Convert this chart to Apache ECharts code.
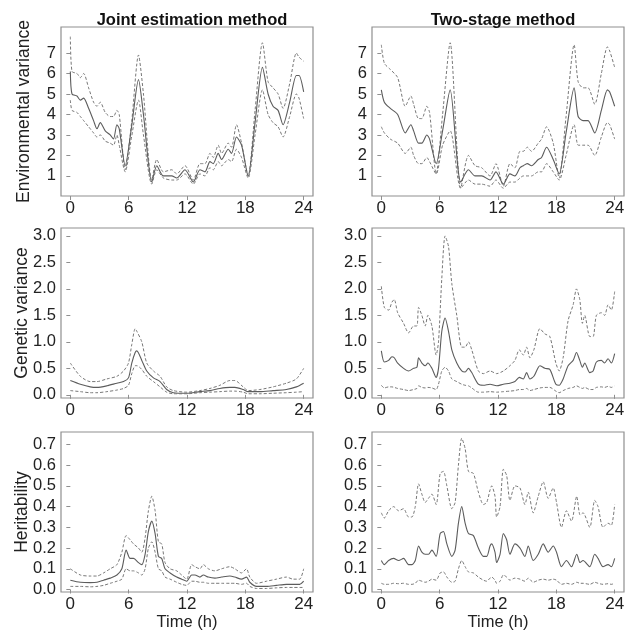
<!DOCTYPE html>
<html>
<head>
<meta charset="utf-8">
<script src="https://cdn.jsdelivr.net/npm/echarts@6/dist/echarts.min.js"></script>
<style>
html,body{margin:0;padding:0;background:#fff;}
#c{width:629px;height:632px;}
</style>
</head>
<body>
<div id="c"></div>
<script>
// ---------- DATA ----------
const xTicks = [0, 6, 12, 18, 24];
const envTicks = [1, 2, 3, 4, 5, 6, 7];
const genTicks = [0, 0.5, 1, 1.5, 2, 2.5, 3];
const herTicks = [0, 0.1, 0.2, 0.3, 0.4, 0.5, 0.6, 0.7];
const columnTitles = ["Joint estimation method", "Two-stage method"];
const rowNames = ["Environmental variance", "Genetic variance", "Heritability"];

// Joint estimation – environmental variance
const envJointT = [0, 0.17, 0.68, 1.03, 1.37, 1.88, 2.39, 2.74, 3.08, 3.59, 4.10, 4.44, 4.79, 5.03, 5.64, 6.3, 7.01, 7.52, 8.38, 8.89, 9.57, 10.43, 10.94, 11.79, 12.65, 13.33, 13.85, 14.36, 14.70, 15.21, 15.56, 16.24, 16.58, 17.09, 17.61, 18.29, 19.0, 19.76, 20.34, 20.85, 21.37, 21.88, 22.56, 23.25, 23.52, 24];
const envJointUp = [7.8, 6.1, 6.0, 5.8, 6.0, 5.3, 4.6, 4.4, 4.6, 4.1, 3.9, 3.9, 4.2, 4.0, 1.3, 3.6, 6.9, 5.0, 0.8, 1.8, 1.2, 1.3, 1.1, 1.5, 0.8, 1.6, 1.6, 2.1, 1.9, 2.5, 2.1, 2.6, 2.4, 3.5, 2.6, 1.0, 4.2, 7.5, 5.6, 5.3, 5.0, 4.3, 5.5, 7.0, 6.8, 6.6];
const envJointMid = [6.1, 5.0, 4.9, 4.7, 4.8, 4.3, 3.7, 3.3, 3.6, 3.2, 3.0, 2.8, 3.5, 3.3, 1.5, 3.4, 5.7, 4.0, 0.7, 1.5, 1.0, 1.0, 0.9, 1.3, 0.7, 1.3, 1.2, 1.7, 1.6, 2.1, 1.8, 2.3, 2.1, 2.9, 2.5, 1.0, 3.6, 6.3, 5.0, 4.4, 4.2, 3.5, 4.6, 5.9, 5.9, 5.1];
const envJointLo = [4.7, 4.2, 4.1, 3.9, 3.7, 3.4, 3.1, 2.9, 3.0, 2.7, 2.6, 2.5, 3.0, 2.5, 1.2, 2.9, 4.7, 3.0, 0.6, 1.3, 0.9, 0.8, 0.8, 1.1, 0.6, 1.1, 1.0, 1.4, 1.3, 1.7, 1.5, 1.8, 1.7, 2.3, 1.9, 0.9, 3.0, 5.2, 4.0, 3.6, 3.4, 2.9, 3.9, 5.0, 4.8, 3.8];

// Two-stage – environmental variance
const envTwoT = [0, 0.31, 0.92, 1.68, 2.46, 3.04, 3.32, 3.83, 4.17, 4.68, 4.96, 5.64, 6.3, 7.08, 8.17, 8.96, 9.64, 10.32, 11.18, 11.79, 12.55, 13.23, 13.74, 14.26, 14.60, 15.01, 15.45, 16.14, 16.48, 17.0, 17.68, 18.29, 19.0, 19.83, 20.24, 20.75, 21.26, 21.95, 22.63, 23.25, 23.49, 24];
const envTwoUp = [7.4, 6.5, 6.2, 5.8, 4.4, 4.9, 4.5, 3.8, 3.8, 4.4, 4.1, 1.1, 4.0, 7.5, 0.4, 2.0, 1.5, 1.4, 1.0, 1.6, 0.5, 1.6, 1.4, 2.2, 2.2, 2.4, 2.2, 2.6, 2.8, 3.4, 2.6, 0.9, 3.9, 7.4, 5.6, 5.3, 5.3, 4.5, 6.0, 7.3, 7.1, 6.3];
const envTwoMid = [5.2, 4.6, 4.3, 4.0, 3.1, 3.5, 3.2, 2.6, 2.6, 3.0, 2.8, 1.6, 3.2, 5.2, 0.7, 1.3, 1.0, 1.0, 0.8, 1.2, 0.6, 1.1, 1.0, 1.4, 1.5, 1.6, 1.5, 1.8, 1.9, 2.4, 1.8, 1.1, 3.1, 5.3, 3.9, 3.7, 3.7, 3.1, 4.2, 5.2, 5.1, 4.4];
const envTwoLo = [3.4, 3.1, 2.8, 2.6, 2.1, 2.4, 2.0, 1.6, 1.6, 1.9, 1.7, 1.1, 2.5, 3.2, 0.4, 0.8, 0.6, 0.6, 0.5, 0.8, 0.4, 0.7, 0.7, 0.9, 1.0, 1.0, 1.0, 1.2, 1.2, 1.6, 1.2, 0.8, 2.0, 3.5, 2.5, 2.5, 2.5, 2.0, 2.9, 3.6, 3.5, 2.8];

// Joint estimation – genetic variance
const genJointT = [0, 1.03, 2.05, 2.74, 3.76, 4.79, 5.47, 5.98, 6.32, 6.67, 6.84, 7.35, 7.86, 8.55, 9.23, 9.91, 10.6, 11.97, 13.33, 14.36, 15.38, 16.41, 16.92, 17.78, 18.29, 19.49, 20.85, 22.22, 23.25, 24];
const genJointUp = [0.6, 0.35, 0.25, 0.25, 0.3, 0.35, 0.45, 0.6, 0.95, 1.25, 1.2, 1.0, 0.6, 0.45, 0.35, 0.15, 0.08, 0.05, 0.08, 0.12, 0.18, 0.27, 0.27, 0.15, 0.08, 0.1, 0.15, 0.22, 0.3, 0.5];
const genJointMid = [0.27, 0.2, 0.15, 0.14, 0.17, 0.22, 0.25, 0.32, 0.6, 0.8, 0.83, 0.65, 0.45, 0.32, 0.25, 0.1, 0.04, 0.03, 0.06, 0.08, 0.12, 0.14, 0.14, 0.1, 0.06, 0.06, 0.08, 0.1, 0.15, 0.22];
const genJointLo = [0.08, 0.06, 0.04, 0.04, 0.06, 0.09, 0.12, 0.18, 0.4, 0.55, 0.55, 0.48, 0.35, 0.25, 0.15, 0.05, 0.02, 0.02, 0.04, 0.05, 0.06, 0.07, 0.07, 0.05, 0.02, 0.02, 0.03, 0.04, 0.05, 0.06];

// Two-stage – genetic variance
const genTwoT = [0, 0.31, 0.75, 1.09, 1.33, 1.68, 2.29, 2.80, 3.32, 3.66, 3.83, 4.17, 4.51, 4.79, 5.20, 5.64, 5.88, 6.22, 6.56, 6.91, 7.25, 7.76, 8.27, 8.62, 8.96, 9.30, 9.98, 10.50, 11.18, 11.86, 12.55, 13.23, 13.74, 14.19, 14.60, 14.94, 15.28, 15.69, 16.31, 16.82, 17.33, 17.95, 18.29, 18.70, 19.21, 19.73, 20.07, 20.41, 20.68, 20.92, 21.44, 21.78, 22.12, 22.63, 22.97, 23.32, 23.66, 24];
const genTwoUp = [2.05, 1.65, 1.6, 1.75, 1.8, 1.55, 1.35, 1.17, 1.3, 1.3, 1.65, 1.5, 1.3, 1.5, 1.3, 0.75, 1.0, 2.2, 3.0, 2.8, 2.1, 1.5, 0.9, 0.9, 1.0, 0.85, 0.45, 0.4, 0.45, 0.4, 0.45, 0.55, 0.65, 0.85, 0.75, 0.9, 0.7, 0.85, 1.25, 1.15, 1.1, 0.6, 0.45, 0.7, 1.4, 1.7, 2.0, 1.8, 1.35, 1.5, 1.1, 1.1, 1.5, 1.55, 1.5, 1.7, 1.6, 1.95];
const genTwoMid = [0.83, 0.62, 0.65, 0.72, 0.7, 0.6, 0.5, 0.45, 0.5, 0.52, 0.7, 0.6, 0.55, 0.6, 0.5, 0.33, 0.5, 1.2, 1.45, 1.2, 0.85, 0.6, 0.45, 0.43, 0.5, 0.42, 0.2, 0.18, 0.2, 0.17, 0.2, 0.22, 0.25, 0.33, 0.3, 0.42, 0.3, 0.35, 0.55, 0.5, 0.48, 0.2, 0.18, 0.3, 0.55, 0.65, 0.8, 0.65, 0.52, 0.6, 0.42, 0.45, 0.62, 0.65, 0.6, 0.68, 0.6, 0.78];
const genTwoLo = [0.18, 0.13, 0.15, 0.15, 0.14, 0.12, 0.1, 0.08, 0.1, 0.12, 0.17, 0.14, 0.13, 0.14, 0.13, 0.1, 0.2, 0.45, 0.52, 0.45, 0.3, 0.25, 0.2, 0.18, 0.17, 0.13, 0.05, 0.05, 0.06, 0.05, 0.06, 0.07, 0.08, 0.1, 0.1, 0.12, 0.08, 0.1, 0.13, 0.14, 0.14, 0.07, 0.04, 0.08, 0.12, 0.14, 0.17, 0.14, 0.12, 0.14, 0.1, 0.1, 0.14, 0.15, 0.14, 0.16, 0.14, 0.17];

// Joint estimation – heritability
const herJointT = [0, 1.03, 2.05, 2.74, 3.42, 4.10, 4.79, 5.30, 5.74, 6.15, 6.50, 7.01, 7.35, 7.69, 8.03, 8.38, 8.72, 9.06, 9.40, 9.74, 10.26, 10.94, 11.45, 11.97, 12.48, 12.82, 13.33, 13.68, 14.19, 14.87, 15.56, 16.41, 16.92, 17.61, 18.12, 18.46, 19.15, 20.17, 21.2, 22.22, 22.91, 23.59, 24];
const herJointUp = [0.1, 0.07, 0.065, 0.065, 0.08, 0.1, 0.12, 0.18, 0.26, 0.24, 0.22, 0.2, 0.18, 0.25, 0.38, 0.45, 0.38, 0.23, 0.22, 0.13, 0.1, 0.09, 0.07, 0.05, 0.12, 0.11, 0.1, 0.12, 0.1, 0.09, 0.1, 0.11, 0.1, 0.08, 0.1, 0.06, 0.03, 0.04, 0.05, 0.06, 0.05, 0.05, 0.1];
const herJointMid = [0.045, 0.035, 0.033, 0.035, 0.045, 0.055, 0.07, 0.1, 0.19, 0.15, 0.15, 0.13, 0.12, 0.17, 0.28, 0.33, 0.27, 0.16, 0.15, 0.1, 0.08, 0.06, 0.05, 0.04, 0.07, 0.07, 0.06, 0.07, 0.06, 0.055, 0.06, 0.065, 0.06, 0.05, 0.06, 0.035, 0.015, 0.015, 0.02, 0.025, 0.025, 0.025, 0.04];
const herJointLo = [0.015, 0.015, 0.013, 0.015, 0.02, 0.03, 0.04, 0.05, 0.1, 0.09, 0.09, 0.08, 0.07, 0.1, 0.2, 0.23, 0.18, 0.1, 0.09, 0.06, 0.05, 0.035, 0.025, 0.02, 0.04, 0.04, 0.035, 0.035, 0.03, 0.03, 0.03, 0.03, 0.03, 0.025, 0.03, 0.015, 0.005, 0.005, 0.008, 0.01, 0.01, 0.01, 0.01];

// Two-stage – heritability
const herTwoT = [0, 0.31, 0.75, 1.26, 1.78, 2.29, 2.80, 3.15, 3.49, 3.83, 4.17, 4.51, 4.85, 5.20, 5.64, 6.05, 6.39, 6.74, 7.25, 7.59, 7.93, 8.27, 8.62, 8.96, 9.47, 9.98, 10.50, 10.84, 11.18, 11.35, 11.69, 11.86, 12.21, 12.55, 12.89, 13.23, 13.74, 14.26, 14.77, 15.11, 15.62, 16.14, 16.65, 17.16, 17.68, 18.02, 18.53, 19.04, 19.56, 20.10, 20.44, 20.75, 21.44, 21.95, 22.29, 22.80, 23.32, 23.66, 24];
const herTwoUp = [0.37, 0.345, 0.38, 0.40, 0.38, 0.39, 0.35, 0.35, 0.40, 0.51, 0.46, 0.42, 0.44, 0.46, 0.41, 0.56, 0.57, 0.5, 0.39, 0.42, 0.6, 0.73, 0.68, 0.57, 0.56, 0.47, 0.41, 0.42, 0.48, 0.5, 0.45, 0.35, 0.4, 0.58, 0.55, 0.43, 0.5, 0.49, 0.41, 0.47, 0.37, 0.45, 0.52, 0.44, 0.49, 0.42, 0.30, 0.38, 0.33, 0.45, 0.36, 0.37, 0.3, 0.43, 0.4, 0.3, 0.32, 0.31, 0.41];
const herTwoMid = [0.14, 0.12, 0.14, 0.15, 0.14, 0.15, 0.12, 0.12, 0.14, 0.21, 0.18, 0.17, 0.17, 0.19, 0.16, 0.27, 0.28, 0.22, 0.16, 0.19, 0.32, 0.40, 0.32, 0.27, 0.26, 0.2, 0.16, 0.16, 0.21, 0.22, 0.18, 0.13, 0.17, 0.27, 0.24, 0.17, 0.22, 0.2, 0.16, 0.21, 0.14, 0.17, 0.22, 0.18, 0.21, 0.18, 0.11, 0.14, 0.11, 0.17, 0.13, 0.14, 0.11, 0.17, 0.15, 0.11, 0.12, 0.11, 0.15];
const herTwoLo = [0.03, 0.025, 0.025, 0.03, 0.028, 0.03, 0.025, 0.025, 0.03, 0.045, 0.04, 0.035, 0.04, 0.05, 0.045, 0.08, 0.085, 0.06, 0.035, 0.04, 0.1, 0.14, 0.11, 0.085, 0.08, 0.06, 0.045, 0.04, 0.055, 0.06, 0.045, 0.03, 0.04, 0.07, 0.06, 0.045, 0.055, 0.05, 0.04, 0.055, 0.035, 0.045, 0.05, 0.045, 0.05, 0.045, 0.025, 0.03, 0.025, 0.035, 0.03, 0.03, 0.025, 0.035, 0.03, 0.025, 0.028, 0.025, 0.03];

// ---------- LAYOUT / STYLE ----------
const FONT = '"Liberation Sans", Arial, Helvetica, sans-serif';
const panels = [
  {row:0, col:0, t:envJointT, up:envJointUp, mid:envJointMid, lo:envJointLo},
  {row:0, col:1, t:envTwoT,   up:envTwoUp,   mid:envTwoMid,   lo:envTwoLo},
  {row:1, col:0, t:genJointT, up:genJointUp, mid:genJointMid, lo:genJointLo},
  {row:1, col:1, t:genTwoT,   up:genTwoUp,   mid:genTwoMid,   lo:genTwoLo},
  {row:2, col:0, t:herJointT, up:herJointUp, mid:herJointMid, lo:herJointLo},
  {row:2, col:1, t:herTwoT,   up:herTwoUp,   mid:herTwoMid,   lo:herTwoLo}
];
const colLeft = [61, 372];
const colWidth = 252;
const rowTop = [27, 228, 432];
const rowHeight = [169, 170, 161];
const rowRange = [[0.02, 8.27], [-0.06, 3.15], [-0.012, 0.76]];
const rowTicks = [envTicks, genTicks, herTicks];
const rowFmt = [v => String(v), v => v.toFixed(1), v => v.toFixed(1)];
const rowNameGap = [28, 30, 30];

const frameColor = '#8f8f8f';
const textColor = '#222';

const grids = [], xAxes = [], yAxes = [], series = [];
panels.forEach((p, i) => {
  grids.push({left: colLeft[p.col], top: rowTop[p.row], width: colWidth, height: rowHeight[p.row],
    show: true, borderColor: frameColor, borderWidth: 1.2, backgroundColor: 'transparent', containLabel: false});
  xAxes.push({
    type: 'value', gridIndex: i, min: -0.96, max: 24.96,
    axisLine: {show: false},
    axisTick: {show: true, inside: false, length: 4, lineStyle: {color: frameColor}, customValues: xTicks},
    axisLabel: {show: true, margin: 4, color: textColor, fontSize: 17, fontFamily: FONT, customValues: xTicks},
    splitLine: {show: false},
    name: p.row === 2 ? 'Time (h)' : '', nameLocation: 'middle', nameGap: 22, nameMoveOverlap: false,
    nameTextStyle: {color: textColor, fontSize: 16.5, fontFamily: FONT}
  });
  yAxes.push({
    type: 'value', gridIndex: i, min: rowRange[p.row][0], max: rowRange[p.row][1],
    axisLine: {show: false},
    axisTick: {show: true, inside: false, length: 4, lineStyle: {color: frameColor}, customValues: rowTicks[p.row]},
    axisLabel: {show: true, margin: 5, color: textColor, fontSize: 16.5, fontFamily: FONT,
      customValues: rowTicks[p.row], formatter: rowFmt[p.row]},
    splitLine: {show: false},
    name: p.col === 0 ? rowNames[p.row] : '', nameLocation: 'middle', nameGap: rowNameGap[p.row], nameRotate: 90,
    nameMoveOverlap: false,
    nameTextStyle: {color: textColor, fontSize: 17.5, fontFamily: FONT}
  });
  const mk = arr => p.t.map((t, k) => [t, arr[k]]);
  const common = {type: 'line', xAxisIndex: i, yAxisIndex: i, showSymbol: false, smooth: 0.25, silent: true, animation: false};
  series.push(Object.assign({}, common, {data: mk(p.up), lineStyle: {color: '#787878', width: 1, type: [3, 2]}}));
  series.push(Object.assign({}, common, {data: mk(p.mid), lineStyle: {color: '#5c5c5c', width: 1.1, type: 'solid'}}));
  series.push(Object.assign({}, common, {data: mk(p.lo), lineStyle: {color: '#787878', width: 1, type: [3, 2]}}));
});

const titles = columnTitles.map((txt, c) => ({
  text: txt, left: colLeft[c] + colWidth / 2, top: 7, textAlign: 'center',
  textStyle: {fontSize: 16.5, fontWeight: 'bold', color: '#111', fontFamily: FONT}
}));

const chart = echarts.init(document.getElementById('c'), null, {renderer: 'canvas'});
chart.setOption({
  animation: false,
  backgroundColor: '#fff',
  title: titles,
  grid: grids, xAxis: xAxes, yAxis: yAxes, series: series
});
</script>
</body>
</html>
